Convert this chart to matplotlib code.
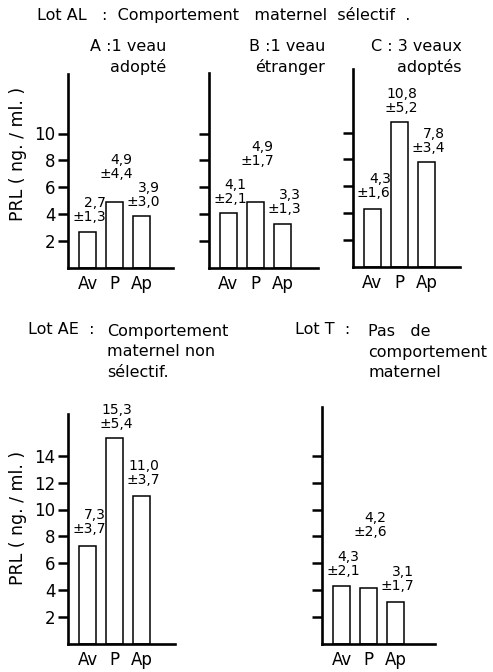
import matplotlib
matplotlib.use('Agg')
import matplotlib.pyplot as plt

# Données : PRL moyenne et écart-type (ng/ml) avant (Av), pendant (P), après (Ap)
categories = ['Av', 'P', 'Ap']

mean_A = [2.7, 4.9, 3.9]
sd_A = [1.3, 4.4, 3.0]
mean_B = [4.1, 4.9, 3.3]
sd_B = [2.1, 1.7, 1.3]
mean_C = [4.3, 10.8, 7.8]
sd_C = [1.6, 5.2, 3.4]
mean_AE = [7.3, 15.3, 11.0]
sd_AE = [3.7, 5.4, 3.7]
mean_T = [4.3, 4.2, 3.1]
sd_T = [2.1, 2.6, 1.7]

W, H = 493, 672
PX_PER_UNIT = 13.45
BAR_STEP = 27.0
FIRST_BAR = 19.5

plt.rcParams['font.family'] = ['DejaVu Sans']

fig = plt.figure(figsize=(W / 100, H / 100), dpi=100)


def fmt(v):
	return f'{v:.1f}'.replace('.', ',')


def panel(x0, x1, y_base, ymax, means, sds, gaps, ticks, label_y=None):
	h = ymax * PX_PER_UNIT
	ax = fig.add_axes([x0 / W, 1 - y_base / H, (x1 - x0) / W, h / H])
	xs = list(range(len(categories)))
	ax.bar(xs, means, width=0.64, color='white', edgecolor='black', linewidth=1.1)
	for x, m, s, g in zip(xs, means, sds, gaps):
		ax.text(x + 0.05, m + g, f'{fmt(m)}\n±{fmt(s)}', ha='center', va='bottom',
				multialignment='right', fontsize=10, linespacing=1.0)
	left = -FIRST_BAR / BAR_STEP
	ax.set_xlim(left, left + (x1 - x0) / BAR_STEP)
	ax.set_ylim(0, ymax)
	ax.set_xticks(xs)
	ax.set_xticklabels(categories, fontsize=12)
	ax.tick_params(axis='x', length=0, pad=5)
	ax.set_yticks(ticks)
	if label_y is not None:
		ax.set_yticklabels([str(t) for t in ticks], fontsize=12)
		ax.set_ylabel('PRL ( ng. / ml. )', fontsize=12.5)
		ax.yaxis.set_label_coords(-41 / (x1 - x0), label_y)
	else:
		ax.set_yticklabels([])
	ax.tick_params(axis='y', direction='out', length=7, width=1.8, pad=2)
	for side in ('top', 'right'):
		ax.spines[side].set_visible(False)
	for side in ('left', 'bottom'):
		ax.spines[side].set_linewidth(1.9)
	return ax


top_ticks = [2, 4, 6, 8, 10]
bottom_ticks = [2, 4, 6, 8, 10, 12, 14]

panel(68, 173, 268, 14.4, mean_A, sd_A, [0.6, 1.6, 0.5], top_ticks, label_y=0.59)
panel(209, 318, 268, 14.5, mean_B, sd_B, [0.5, 2.5, 0.6], top_ticks)
panel(353, 460, 267, 14.7, mean_C, sd_C, [0.7, 0.5, 0.5], top_ticks)
panel(68, 175, 644, 17.1, mean_AE, sd_AE, [0.7, 0.5, 0.7], bottom_ticks, label_y=0.55)
panel(322, 435, 644, 17.6, mean_T, sd_T, [0.6, 3.6, 0.7], bottom_ticks)


def ftext(x, y, s, **kw):
	fig.text(x / W, 1 - y / H, s, va='center', **kw)


ftext(37, 15, 'Lot AL   :  Comportement   maternel  sélectif  .', fontsize=11.5)
ftext(166, 57, 'A :1 veau\nadopté', ha='right', multialignment='right', fontsize=11.5, linespacing=1.35)
ftext(325, 57, 'B :1 veau\nétranger', ha='right', multialignment='right', fontsize=11.5, linespacing=1.35)
ftext(462, 57, 'C : 3 veaux\nadoptés', ha='right', multialignment='right', fontsize=11.5, linespacing=1.35)

ftext(28, 330, 'Lot AE  :', fontsize=11.5)
ftext(107, 352, 'Comportement\nmaternel non\nsélectif.', ha='left', fontsize=11.5, linespacing=1.45)
ftext(295, 330, 'Lot T  :', fontsize=11.5)
ftext(368, 352, 'Pas   de\ncomportement\nmaternel', ha='left', fontsize=11.5, linespacing=1.45)

fig.savefig('out.png', dpi=100)
